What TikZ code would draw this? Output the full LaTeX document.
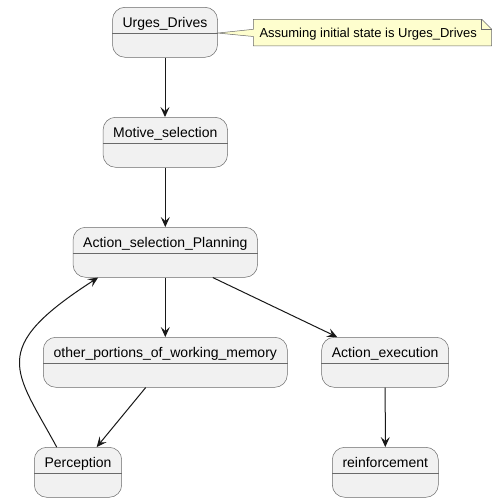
\documentclass[tikz,border=0pt]{standalone}
\usepackage{fontspec}
\setmainfont{Liberation Sans}
\usetikzlibrary{arrows.meta,calc}
\definecolor{stfill}{HTML}{F1F1F1}
\definecolor{stline}{HTML}{181818}
\definecolor{stborder}{HTML}{6A6A6A}
\definecolor{notefill}{HTML}{FEFECE}
\newcommand\stnode[5]{%
  \node[stbox, minimum width=#4] (#1) at (#2,#3) {};
  \draw[stborder, line width=0.5pt] ($(#1.north west)+(0,26.5)$) -- ($(#1.north east)+(0,26.5)$);
  \node[sttitle] (#1-t) at ($(#1.north)+(0,20.4)$) {#5};
}
\begin{document}
\begin{tikzpicture}[x=1pt,y=-1pt,
  stbox/.style={draw=stborder, fill=stfill, line width=0.5pt, rounded corners=12.5pt, minimum height=50pt, inner sep=0pt},
  sttitle/.style={font=\fontsize{14}{16}\selectfont, inner sep=0pt, anchor=base},
  edge/.style={draw=stline, line width=1pt, -{Stealth[length=10pt,width=9pt,inset=4pt]}}]
\useasboundingbox (0,0) rectangle (497,502);
\fill[white] (0,0) rectangle (497,502);

\stnode{us}{165}{32.3}{105}{Urges\_Drives}
\stnode{ms}{165.3}{142.3}{124.4}{Motive\_selection}
\stnode{asp}{165.3}{252.3}{184.4}{Action\_selection\_Planning}
\stnode{opwm}{165.3}{362.3}{244}{other\_portions\_of\_working\_memory}
\stnode{ae}{385.2}{362.3}{127}{Action\_execution}
\stnode{perc}{78}{472.3}{87.4}{Perception}
\stnode{reinf}{385.3}{472.3}{106}{reinforcement}

% note
\draw[draw=stborder, fill=notefill, line width=0.5pt]
  (253.3,19.3) -- (481.7,19.3) -- (491.7,29.3) -- (491.7,46) -- (253.3,46) -- (253.3,36.5)
  -- ($(us.north east)+(0,26)$) -- (253.3,29.3) -- cycle;
\draw[draw=stborder, line width=0.5pt] (481.7,19.3) -- (481.7,29.3) -- (491.7,29.3);
\node[anchor=base west, font=\fontsize{13}{15}\selectfont, inner sep=0pt] (note) at (259.3,37.8) {Assuming initial state is Urges\_Drives};

% edges
\draw[edge] (us.south) -- (us.south |- ms.north);
\draw[edge] (ms.south) -- (asp.north);
\draw[edge] (asp.south) -- (opwm.north);
\draw[edge] ([xshift=47.5pt]asp.south) -- ([xshift=-48pt]ae.north);
\draw[edge] ([xshift=-19.6pt]opwm.south) -- ([xshift=18.7pt]perc.north);
\draw[edge] ([xshift=-21.3pt]perc.north) .. controls (15,370) and (-13,349) .. ([xshift=-67.2pt]asp.south);
\draw[edge] (ae.south) -- (reinf.north);
\end{tikzpicture}
\end{document}
